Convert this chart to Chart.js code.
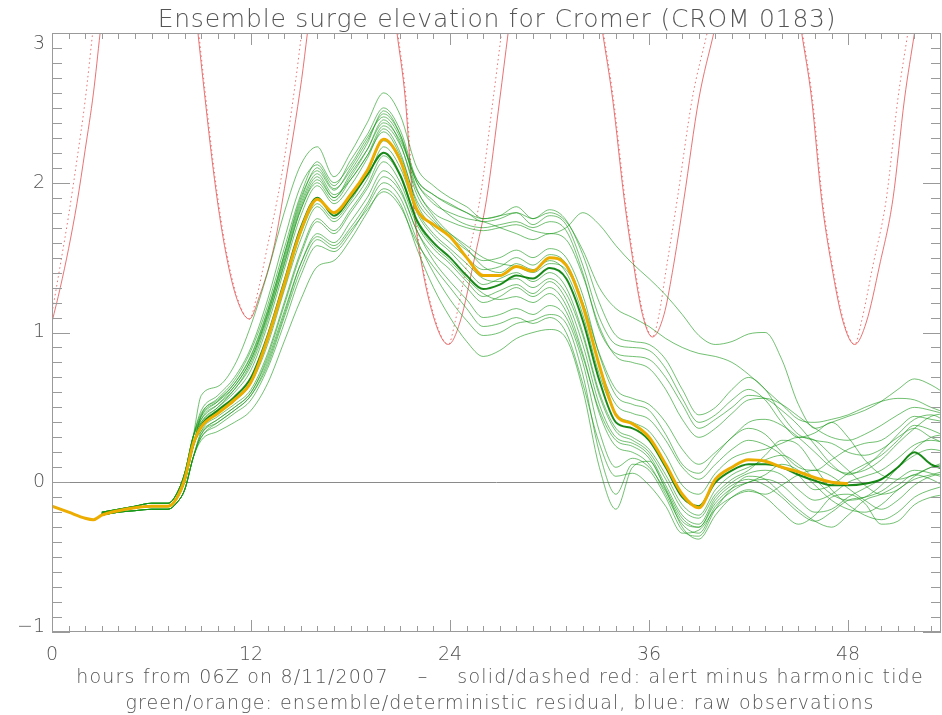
<!DOCTYPE html>
<html><head><meta charset="utf-8">
<script src="https://cdn.jsdelivr.net/npm/chart.js@4.4.0/dist/chart.umd.min.js"></script>
<style>
html,body{margin:0;padding:0;background:#fff;}
#wrap{position:relative;width:942px;height:715px;overflow:hidden;background:#fff;}
#c{position:absolute;left:0;top:0;}
.txt{position:absolute;font-family:"DejaVu Sans",sans-serif;font-weight:200;color:#555;white-space:pre;text-align:center;}
#title{left:0;width:994px;top:4px;font-size:25px;letter-spacing:0.8px;}
#n1{left:0;width:1000px;top:665px;font-size:19px;letter-spacing:1.2px;}
#n2{left:0;width:1000px;top:691px;font-size:19px;letter-spacing:1.1px;}
</style></head>
<body><div id="wrap">
<canvas id="c" width="942" height="715"></canvas>
<div class="txt" id="title">Ensemble surge elevation for Cromer (CROM 0183)</div>
<div class="txt" id="n1">hours from 06Z on 8/11/2007    –    solid/dashed red: alert minus harmonic tide</div>
<div class="txt" id="n2">green/orange: ensemble/deterministic residual, blue: raw observations</div>
</div>
<script>
// ---------- data ----------
const xTicks = [0, 12, 24, 36, 48];
const yTickLabels = ["3", "2", "1", "0", "\u22121"];
const yTickValues = [3, 2, 1, 0, -1];

// deterministic (orange)
const detHours = [0,1,2,2.5,3,4,5,6,7,7.5,8,8.5,9,10,11,12,13,14,15,16,17,18,19,20,21,22,23,24,25,26,27,28,29,30,31,32,33,34,35,36,37,38,39,40,41,42,43,44,45,46,47,48];
const detValues = [-0.16,-0.20,-0.24,-0.25,-0.22,-0.19,-0.17,-0.16,-0.16,-0.11,0.02,0.25,0.37,0.46,0.55,0.67,0.96,1.32,1.68,1.89,1.80,1.92,2.08,2.29,2.15,1.82,1.72,1.64,1.50,1.38,1.38,1.44,1.41,1.50,1.45,1.18,0.78,0.45,0.39,0.30,0.12,-0.08,-0.17,0.02,0.10,0.15,0.14,0.10,0.07,0.03,0.00,-0.01];

// ensemble members (green)
const ensHours = [3,4,5,6,7,7.5,8,8.5,9,10,11,12,13,14,15,16,17,18,19,20,21,22,23,24,25,26,27,28,29,30,31,32,33,34,35,36,37,38,39,40,41,42,43,44,45,46,47,48,49,50,51,52,53,54];
const startA = [-0.20,-0.18,-0.16,-0.14,-0.14,-0.08,0.06,0.30];
const startB = [-0.21,-0.19,-0.17,-0.16,-0.16,-0.11,0.01,0.24];
const startC = [-0.22,-0.20,-0.19,-0.18,-0.18,-0.14,-0.05,0.16];
const memU1 = [.58,.64,.78,1.05,1.40,1.80,2.12,2.24,2.04,2.20,2.40,2.60, 2.45,2.10,1.98,1.90,1.84,1.76,1.78,1.84,1.76,1.82,1.75,1.52, 1.20,0.98,0.94,0.92,0.82,0.62,0.45,0.50,0.62,0.70,0.62,0.45, 0.32,0.28,0.26,0.20,0.18,0.22,0.30,0.36,0.30,0.25];
const memU2 = [.48,.58,.70,.90,1.22,1.62,1.98,2.12,1.98,2.15,2.32,2.50, 2.35,2.02,1.92,1.85,1.80,1.74,1.76,1.80,1.72,1.78,1.72,1.45, 1.10,0.92,0.90,0.88,0.76,0.56,0.40,0.45,0.55,0.62,0.55,0.40, 0.30,0.33,0.40,0.30,0.15,0.05,0.02,0.05,0.10,0.12];
const memU3 = [.45,.55,.66,.85,1.15,1.52,1.90,2.08,1.95,2.10,2.28,2.46, 2.32,2.00,1.88,1.78,1.72,1.70,1.72,1.74,1.70,1.74,1.68,1.40, 1.02,0.86,0.84,0.82,0.70,0.52,0.36,0.42,0.50,0.58,0.56,0.48, 0.38,0.25,0.12,0.05,0.10,0.20,0.32,0.42,0.45,0.40];
const memU4 = [.46,.56,.68,.88,1.18,1.56,1.92,2.14,2.00,2.12,2.30,2.44, 2.30,2.00,1.86,1.80,1.76,1.74,1.70,1.66,1.62,1.66,1.62,1.38, 1.04,0.84,0.80,0.76,0.62,0.42,0.30,0.36,0.46,0.55,0.56,0.52, 0.44,0.36,0.30,0.28,0.32,0.38,0.45,0.50,0.48,0.45];
const memO1 = [.42,.52,.62,.80,1.10,1.45,1.82,2.00,1.88,2.02,2.18,2.38, 2.25,1.95,1.80,1.74,1.70,1.68,1.70,1.72,1.68,1.66,1.70,1.80, 1.72,1.58,1.46,1.36,1.25,1.12,0.98,0.92,0.94,0.99,1.00,0.82, 0.52,0.36,0.40,0.44,0.48,0.54,0.62,0.69,0.65,0.58];
const memO2 = [.44,.54,.64,.82,1.12,1.48,1.84,2.04,1.90,2.06,2.22,2.40, 2.28,2.02,1.92,1.86,1.80,1.76,1.78,1.80,1.76,1.80,1.74,1.55, 1.30,1.16,1.10,1.04,0.96,0.90,0.86,0.84,0.80,0.72,0.62,0.52, 0.42,0.40,0.42,0.45,0.50,0.54,0.56,0.55,0.50,0.46];
const memM1 = [.40,.50,.60,.75,1.05,1.42,1.78,1.98,1.86,1.98,2.16,2.36, 2.20,1.86,1.70,1.60,1.50,1.42,1.44,1.50,1.45,1.52,1.46,1.20, 0.78,0.52,0.46,0.42,0.28,0.10,0.02,0.12,0.22,0.28,0.25,0.18, 0.05,-0.05,-0.02,0.06,0.12,0.18,0.28,0.38,0.35,0.30];
const memM2 = [.38,.48,.57,.70,.98,1.34,1.70,1.90,1.78,1.90,2.05,2.20, 2.05,1.75,1.60,1.50,1.38,1.29,1.32,1.38,1.36,1.43,1.36,1.08, 0.68,0.40,0.36,0.28,0.10,-0.10,-0.16,0.00,0.08,0.12,0.12,0.10, 0.05,0.01,-0.02,-0.02,-0.01,0.02,0.10,0.20,0.12,0.08];
const memM3 = [.36,.46,.54,.66,.92,1.28,1.62,1.84,1.74,1.86,2.02,2.24, 2.10,1.80,1.64,1.54,1.42,1.32,1.36,1.40,1.34,1.40,1.30,1.00, 0.60,0.36,0.30,0.22,0.05,-0.15,-0.22,-0.05,0.05,0.10,0.15,0.18, 0.12,0.02,-0.08,-0.12,-0.10,-0.02,0.10,0.22,0.30,0.32];
const memM4 = [.40,.50,.62,.78,1.08,1.46,1.82,2.02,1.90,2.04,2.22,2.42, 2.26,1.92,1.76,1.64,1.55,1.48,1.50,1.55,1.50,1.56,1.50,1.25, 0.85,0.58,0.52,0.48,0.32,0.12,0.06,0.18,0.30,0.36,0.32,0.20, 0.10,0.08,0.15,0.22,0.26,0.28,0.36,0.44,0.42,0.40];
const memM5 = [.32,.42,.50,.60,.84,1.18,1.52,1.74,1.66,1.80,1.96,2.14, 2.00,1.72,1.56,1.46,1.34,1.24,1.28,1.32,1.26,1.34,1.22,0.92, 0.52,0.30,0.26,0.18,-0.02,-0.22,-0.28,-0.10,0.00,0.06,0.08,0.05, -0.05,-0.12,-0.08,0.00,0.04,0.08,0.16,0.25,0.28,0.26];
const memM6 = [.44,.54,.66,.84,1.14,1.52,1.88,2.10,1.96,2.08,2.26,2.48, 2.32,1.96,1.78,1.66,1.56,1.44,1.40,1.46,1.42,1.48,1.40,1.12, 0.72,0.46,0.40,0.34,0.18,-0.02,-0.08,0.06,0.16,0.20,0.22,0.26, 0.30,0.28,0.18,0.08,-0.02,-0.08,-0.05,0.04,0.10,0.14];
const memM7 = [.30,.40,.48,.58,.80,1.12,1.46,1.66,1.60,1.74,1.90,2.08, 1.96,1.68,1.52,1.42,1.30,1.20,1.24,1.30,1.24,1.30,1.18,0.86, 0.46,0.24,0.20,0.12,-0.08,-0.28,-0.34,-0.16,-0.06,0.00,0.02,-0.02, -0.12,-0.20,-0.18,-0.10,-0.04,0.02,0.10,0.18,0.22,0.20];
const memM8 = [.38,.47,.56,.68,.95,1.30,1.66,1.86,1.76,1.88,2.06,2.28, 2.14,1.82,1.66,1.56,1.46,1.36,1.34,1.36,1.30,1.36,1.26,0.98, 0.58,0.34,0.28,0.20,0.02,-0.18,-0.24,-0.08,0.02,0.08,0.18,0.28, 0.25,0.10,-0.05,-0.15,-0.22,-0.25,-0.20,-0.10,-0.05,-0.02];
const memM9 = [.34,.44,.52,.62,.86,1.20,1.54,1.76,1.68,1.82,1.98,2.18, 2.04,1.74,1.58,1.48,1.36,1.26,1.22,1.24,1.20,1.26,1.14,0.84, 0.48,0.28,0.24,0.16,-0.04,-0.24,-0.30,-0.12,-0.02,0.02,-0.02,-0.10, -0.20,-0.26,-0.20,-0.12,-0.10,-0.06,0.02,0.08,0.06,0.02];
const memM10 = [.42,.52,.64,.82,1.12,1.50,1.86,2.06,1.92,2.02,2.18,2.34, 2.18,1.88,1.74,1.66,1.58,1.50,1.46,1.44,1.40,1.46,1.42,1.20, 0.86,0.62,0.56,0.52,0.40,0.22,0.12,0.20,0.30,0.40,0.42,0.38, 0.30,0.20,0.10,0.06,0.08,0.15,0.26,0.36,0.44,0.46];
const memL1 = [.28,.34,.40,.48,.66,0.94,1.22,1.44,1.48,1.62,1.80,1.96, 1.86,1.56,1.30,1.10,0.94,0.84,0.88,0.96,1.00,1.02,0.96,0.62, 0.10,-0.18,0.10,0.14,-0.05,-0.30,-0.38,-0.22,-0.10,-0.05,-0.10,-0.20, -0.28,-0.22,-0.10,-0.08,-0.14,-0.28,-0.26,-0.15,-0.10,-0.08];
const memL2 = [.30,.38,.46,.55,.76,1.06,1.38,1.58,1.54,1.66,1.84,2.00, 1.90,1.62,1.40,1.22,1.08,0.98,1.00,1.06,1.08,1.12,1.06,0.72, 0.20,-0.08,0.12,0.08,-0.10,-0.32,-0.36,-0.18,-0.04,0.04,0.02,-0.08, -0.18,-0.26,-0.30,-0.22,-0.12,-0.08,-0.02,0.05,0.02,-0.04];
const memL3 = [.34,.42,.50,.60,.82,1.14,1.46,1.64,1.58,1.70,1.86,2.04, 1.94,1.68,1.48,1.34,1.22,1.10,1.12,1.16,1.12,1.18,1.10,0.80, 0.34,0.10,0.16,0.10,-0.06,-0.26,-0.30,-0.14,-0.04,0.00,0.05,0.12, 0.08,-0.02,-0.12,-0.18,-0.20,-0.15,-0.05,0.02,0.05,0.08];
const memL4 = [.32,.40,.48,.58,.78,1.10,1.42,1.62,1.56,1.68,1.82,1.94, 1.84,1.60,1.44,1.30,1.16,1.04,1.06,1.10,1.06,1.10,1.00,0.66, 0.26,0.04,0.06,-0.02,-0.16,-0.34,-0.32,-0.18,-0.10,-0.06,-0.08,-0.02, 0.05,0.08,0.04,-0.04,-0.12,-0.18,-0.12,-0.02,0.04,0.06];

// alert minus harmonic tide (red): solid and dashed, null = off the top of the plot
const redSolidHours = [0,0.5,1,1.5,2,2.5,2.9,null, 8.8,9.1,9.8,10.4,11.1,11.9,12.5,13.4,14.1,15.05,15.4,null, 20.8,21.3,21.75,22.2,23.1,23.9,24.6,25.5,26.2,27.0,27.5,null, 33.2,33.8,34.5,35.0,35.6,36.2,36.9,37.4,38.1,39.0,39.9,null, 45.2,45.8,46.4,47.0,47.7,48.4,49.1,49.9,50.7,51.4,52.0];
const redSolidValues = [1.07,1.30,1.56,1.86,2.22,2.60,3.0,null, 3.0,2.69,2.02,1.58,1.24,1.09,1.24,1.58,2.02,2.69,3.0,null, 3.0,2.56,1.89,1.51,1.07,0.92,1.07,1.51,1.89,2.56,3.0,null, 3.0,2.56,1.89,1.50,1.12,0.97,1.12,1.40,1.89,2.56,3.0,null, 3.0,2.56,1.89,1.45,1.07,0.92,1.07,1.45,1.89,2.56,3.0];
const redDashHours = [0,0.5,1,1.5,2,2.45,null, 8.85,9.15,9.85,10.45,11.15,11.9,12.3,13.0,13.8,14.7,15.05,null, 20.85,21.35,21.8,22.25,23.15,23.9,24.3,25.1,25.8,26.6,27.1,null, 33.25,33.85,34.55,35.05,35.65,36.2,36.6,37.0,37.7,38.6,39.5,null, 45.25,45.85,46.45,47.05,47.75,48.4,48.8,49.5,50.3,51.0,51.6];
const redDashValues = [1.13,1.45,1.78,2.15,2.55,3.0,null, 3.0,2.69,2.02,1.58,1.24,1.09,1.22,1.58,2.02,2.69,3.0,null, 3.0,2.56,1.89,1.51,1.07,0.92,1.07,1.51,1.89,2.56,3.0,null, 3.0,2.56,1.89,1.50,1.12,0.97,1.12,1.40,1.89,2.56,3.0,null, 3.0,2.56,1.89,1.45,1.07,0.92,1.07,1.45,1.89,2.56,3.0];

// ---------- build ----------
function pts(hs, vs){ return hs.map((h,i)=> h===null ? {x: (hs[i-1]+hs[i+1])/2, y: null} : {x:h, y:vs[i]}); }
const members = [
  [startA,memU1],[startA,memU2],[startB,memU3],[startA,memU4],[startB,memO1],[startB,memO2],
  [startA,memM1],[startB,memM3],[startB,memM4],[startC,memM5],[startA,memM6],[startC,memM7],
  [startB,memM8],[startC,memM9],[startA,memM10],[startC,memL1],[startC,memL2],[startB,memL3],[startC,memL4]
];
const datasets = [];
datasets.push({data: pts(detHours, detValues), borderColor:'rgb(236,172,0)', borderWidth:3});
datasets.push({data: pts(ensHours, startB.concat(memM2)), borderColor:'rgba(0,125,0,0.9)', borderWidth:2});
members.forEach(m => datasets.push({data: pts(ensHours, m[0].concat(m[1])), borderColor:'rgba(20,150,20,0.6)', borderWidth:1}));
datasets.push({data: pts(redSolidHours, redSolidValues), borderColor:'rgba(228,80,80,0.8)', borderWidth:1});
datasets.push({data: pts(redDashHours, redDashValues), borderColor:'rgba(228,80,80,0.8)', borderWidth:1, borderDash:[1.5,3]});

const frame = {
  id:'frame',
  beforeDatasetsDraw(chart){
    const {ctx, chartArea:a, scales:{y}} = chart;
    const py = Math.round(y.getPixelForValue(0)) + 0.5;
    ctx.save(); ctx.strokeStyle='#8a8a8a'; ctx.lineWidth=1;
    ctx.beginPath(); ctx.moveTo(a.left,py); ctx.lineTo(a.right,py); ctx.stroke(); ctx.restore();
  },
  afterDatasetsDraw(chart){
    const {ctx, chartArea:a, scales:{x,y}} = chart;
    ctx.save();
    ctx.strokeStyle='#9a9a9a'; ctx.lineWidth=1;
    ctx.strokeRect(a.left+0.5, a.top+0.5, a.right-a.left-1, a.bottom-a.top-1);
    ctx.beginPath();
    for (let h=0; h<=x.max; h+=1){
      const px=Math.round(x.getPixelForValue(h))+0.5; const L=(h%12===0)?12:6;
      ctx.moveTo(px,a.bottom); ctx.lineTo(px,a.bottom-L);
      ctx.moveTo(px,a.top); ctx.lineTo(px,a.top+L);
    }
    for (let i=-10;i<=30;i++){
      const py=Math.round(y.getPixelForValue(i/10))+0.5; const L=(i%10===0)?18:10;
      ctx.moveTo(a.left,py); ctx.lineTo(a.left+L,py);
      ctx.moveTo(a.right,py); ctx.lineTo(a.right-L,py);
    }
    ctx.stroke();
    ctx.fillStyle='#555'; ctx.font='200 19px "DejaVu Sans"'; ctx.textAlign='right'; ctx.textBaseline='middle';
    yTickValues.forEach((v,i)=>{
      let py=y.getPixelForValue(v);
      py=Math.max(a.top+11, Math.min(a.bottom-5, py));
      ctx.fillText(yTickLabels[i], a.left-7, py);
    });
    ctx.restore();
  }
};

new Chart(document.getElementById('c'), {
  type:'line',
  data:{datasets},
  options:{
    responsive:false, animation:false, devicePixelRatio:1,
    parsing:true, spanGaps:false,
    elements:{point:{radius:0}, line:{cubicInterpolationMode:'monotone', fill:false}},
    layout:{padding:{top:33,right:1,left:0,bottom:0}},
    plugins:{legend:{display:false}, tooltip:{enabled:false}, title:{display:false}},
    scales:{
      x:{type:'linear', min:0, max:53.6,
         afterFit:(s)=>{s.height=83;},
         afterBuildTicks:(s)=>{ s.ticks = xTicks.map(v=>({value:v})); },
         ticks:{color:'#555', font:{family:'DejaVu Sans', size:19, weight:200}, padding:12, maxRotation:0, includeBounds:false},
         grid:{display:false, drawTicks:false}, border:{display:false}},
      y:{type:'linear', min:-1, max:3,
         afterFit:(s)=>{s.width=52;},
         ticks:{display:false, stepSize:1},
         grid:{display:false, drawTicks:false}, border:{display:false}}
    }
  },
  plugins:[frame]
});
</script>
</body></html>
